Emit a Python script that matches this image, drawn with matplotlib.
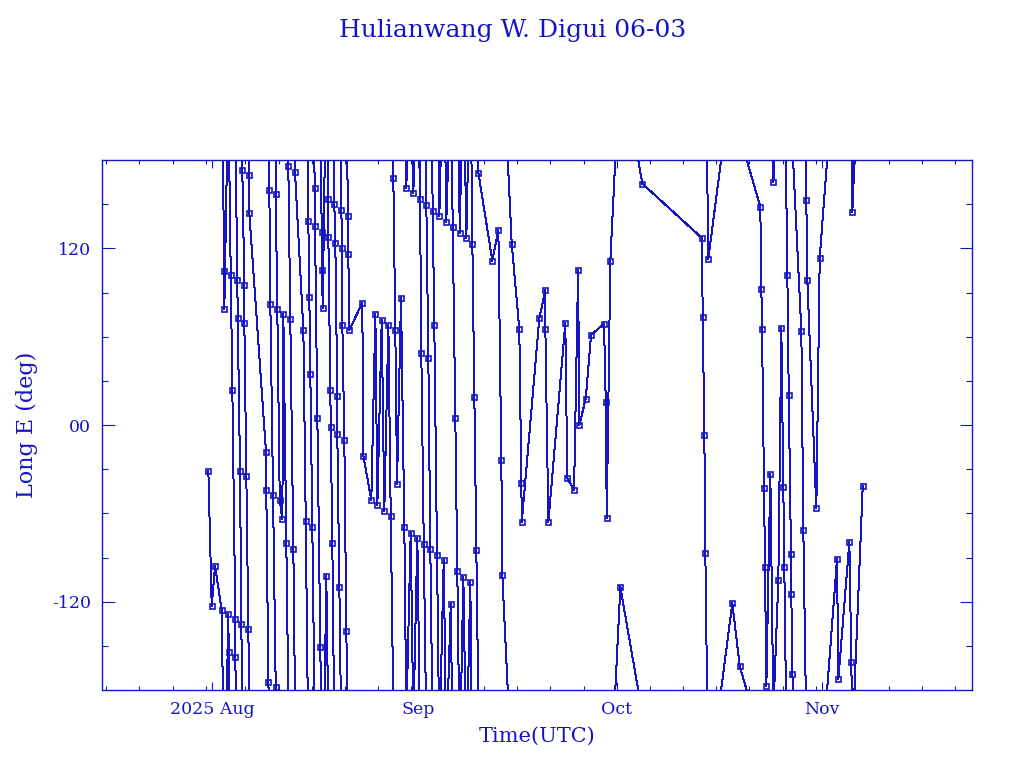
import datetime as dt
import numpy as np
import matplotlib
matplotlib.use("Agg")
import matplotlib.pyplot as plt
import matplotlib.dates as mdates
from matplotlib.ticker import FixedLocator, FuncFormatter

# ---------------- data ----------------
title = "Hulianwang W. Digui 06-03"
x_label = "Time(UTC)"
y_label = "Long E (deg)"
epoch = dt.datetime(2025, 8, 1)
x_start_days = -16.64
x_end_days = 114.58

# observation time, days since 2025-08-01 00:00 UTC
t_days = [
    -0.60, -0.09, 0.41, 1.42, 1.81, 1.81, 2.41, 2.47, 2.78, 3.02,
    3.47, 3.47, 3.77, 3.83, 4.18, 4.37, 4.52, 4.83, 4.83, 5.13,
    5.43, 5.58, 5.58, 8.10, 8.14, 8.45, 8.60, 8.75, 9.16, 9.56,
    9.56, 9.80, 10.17, 10.56, 10.71, 11.16, 11.46, 11.76, 12.22, 12.47,
    13.73, 14.09, 14.48, 14.63, 14.78, 15.08, 15.44, 15.49, 15.84, 16.29,
    16.50, 16.55, 16.65, 17.19, 17.50, 17.50, 17.80, 17.86, 18.10, 18.40,
    18.55, 18.85, 18.85, 19.16, 19.46, 19.56, 19.61, 19.91, 20.21, 20.47,
    20.51, 20.66, 22.62, 22.78, 23.98, 24.59, 24.89, 25.55, 25.94, 26.55,
    26.91, 27.30, 27.60, 27.86, 28.46, 28.96, 29.26, 29.92, 30.32, 30.92,
    31.33, 31.52, 31.89, 32.28, 32.58, 32.88, 33.24, 33.48, 33.89, 34.24,
    34.90, 35.29, 35.96, 36.26, 36.65, 36.95, 37.32, 37.86, 38.31, 38.91,
    39.22, 39.52, 39.82, 40.12, 42.23, 43.14, 43.59, 43.74, 45.16, 46.30,
    46.61, 46.67, 49.32, 50.23, 50.23, 50.68, 53.24, 53.54, 54.56, 55.17,
    55.35, 56.32, 57.12, 59.08, 59.34, 59.49, 60.03, 61.54, 64.86, 73.82,
    73.97, 74.21, 74.36, 74.81, 78.43, 79.55, 82.65, 82.81, 82.91, 83.21,
    83.36, 83.56, 84.16, 84.62, 85.37, 85.82, 86.12, 86.27, 86.73, 86.94,
    87.28, 87.33, 87.48, 88.84, 89.14, 89.59, 89.74, 91.10, 91.61, 94.22,
    94.42, 96.08, 96.38, 96.53, 98.10,
]

# east longitude, degrees
lon_deg = [
    -31.1, -123.1, -95.9, -125.8, 104.9, 79.1, -128.7, -154.3, 101.8, 23.8,
    -132.1, -157.9, 98.4, 72.5, -31.3, -135.3, 173.2, 95.2, 69.1, -34.9,
    -138.7, 169.8, 143.9, -18.6, -44.4, -174.3, 159.8, 82.1, -47.8, -177.7,
    156.6, 78.9, -51.2, -63.9, 75.3, -80.4, 176.1, 71.9, -84.1, 172.0,
    64.6, -65.3, 138.9, 87.0, 34.9, -69.1, 161.1, 135.1, 5.0, -150.9,
    131.4, 105.6, 79.5, -102.7, 153.7, 127.6, 23.6, -1.6, -80.4, 150.1,
    123.9, 19.7, -6.1, -110.1, 146.2, 120.1, 68.2, -10.0, -139.9, 142.3,
    116.3, 64.6, 82.9, -20.9, -51.0, 75.5, -54.6, 71.6, -58.3, 68.0,
    -62.1, 167.9, 64.4, -39.9, 86.6, -69.4, 160.7, -73.4, 157.3, -77.0,
    153.2, 49.2, -80.7, 149.6, 45.6, -84.3, 145.5, 68.0, -88.2, 142.1,
    -92.0, 138.2, -121.7, 134.6, 4.8, -99.5, 130.7, -103.1, 127.1, -106.9,
    123.1, 19.2, -84.8, 171.5, 111.7, 132.6, -24.0, -102.0, 122.9, 65.1,
    -39.6, -66.0, 72.5, 91.6, 65.5, -66.0, 69.1, -36.0, -44.2, 105.4,
    0.0, 17.7, 61.2, 68.7, 15.6, -63.2, 111.7, -110.1, 163.9, 127.1,
    73.6, -6.8, -87.0, 112.9, -121.0, -163.9, 148.4, 92.3, 65.3, -42.8,
    -96.5, -177.5, -33.1, 165.2, -105.4, 66.0, -42.2, -96.5, 101.8, 20.4,
    -87.7, -114.9, -169.3, 63.9, -71.6, 153.0, 98.8, -56.6, 113.5, -91.1,
    -172.7, -79.5, -161.1, 144.6, -41.5,
]

ytick_vals = [-120, 0, 120]
ytick_labels = ["-120", "00", "120"]
month_labels = {7: "2025 Jul", 8: "2025 Aug", 9: "Sep", 10: "Oct", 11: "Nov"}

# ---------------- style ----------------
BLUE = "#1414c4"
FONT = "DejaVu Serif"
plt.rcParams["font.family"] = FONT

fig = plt.figure(figsize=(10.24, 7.68), dpi=100)
ax = fig.add_axes([102 / 1024, 1 - 690 / 768, 870 / 1024, 530 / 768])

tnum = mdates.date2num([epoch + dt.timedelta(days=d) for d in t_days])
lon = np.asarray(lon_deg, dtype=float)

# connect consecutive points along the shortest path in longitude,
# drawing shifted copies so that wrapped segments leave/enter at the edges
xs, ys = [], []
for i in range(len(lon) - 1):
    d = (lon[i + 1] - lon[i] + 180.0) % 360.0 - 180.0
    for k in (-360.0, 0.0, 360.0):
        xs += [tnum[i], tnum[i + 1], np.nan]
        ys += [lon[i] + k, lon[i] + d + k, np.nan]
ax.plot(xs, ys, color=BLUE, lw=0.72, antialiased=False)
ax.plot(tnum, lon, ls="none", marker="s", ms=3.6, mfc="none",
        mec=BLUE, mew=1.2, antialiased=False)

x0 = mdates.date2num(epoch + dt.timedelta(days=x_start_days))
x1 = mdates.date2num(epoch + dt.timedelta(days=x_end_days))
ax.set_xlim(x0, x1)
ax.set_ylim(-180, 180)

ax.xaxis.set_major_locator(mdates.MonthLocator())
ax.xaxis.set_minor_locator(mdates.DayLocator(bymonthday=[6, 11, 16, 21, 26, 31]))


def fmt_month(v, pos=None):
    d = mdates.num2date(v)
    return month_labels.get(d.month, d.strftime("%b"))


ax.xaxis.set_major_formatter(FuncFormatter(fmt_month))

ax.yaxis.set_major_locator(FixedLocator(ytick_vals))
ax.set_yticklabels(ytick_labels)
ax.yaxis.set_minor_locator(FixedLocator(np.arange(-150, 180, 30)))

for s in ax.spines.values():
    s.set_color(BLUE)
    s.set_linewidth(1.0)

ax.tick_params(axis="both", which="both", direction="in", top=True,
               right=True, colors=BLUE, width=0.8)
ax.tick_params(axis="x", which="major", length=6, pad=8, labelsize=12.5)
ax.tick_params(axis="x", which="minor", length=3)
ax.tick_params(axis="y", which="major", length=9, pad=8, labelsize=12.5)
ax.tick_params(axis="y", which="minor", length=4.5)

ax.set_xlabel(x_label, color=BLUE, fontsize=15, labelpad=6)
ax.set_ylabel(y_label, color=BLUE, fontsize=16, labelpad=10)
fig.text(0.501, 1 - 30 / 768, title, color=BLUE, fontsize=18,
         ha="center", va="center")

fig.savefig("out.png", dpi=100)
